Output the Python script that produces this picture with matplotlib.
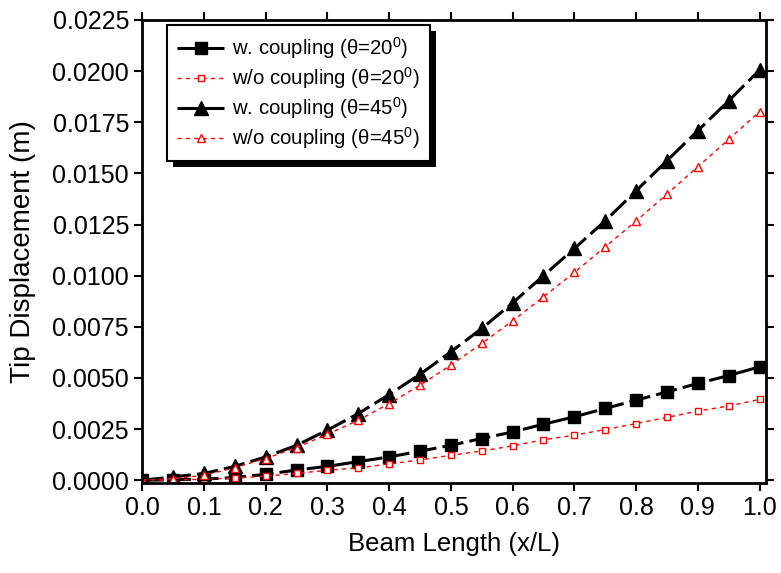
import matplotlib
matplotlib.use("Agg")
import matplotlib.pyplot as plt
from matplotlib.patches import Rectangle
import numpy as np

plt.rcParams['font.family'] = ['Liberation Sans', 'DejaVu Sans']
plt.rcParams['mathtext.fontset'] = 'custom'
plt.rcParams['mathtext.rm'] = 'Liberation Sans'
plt.rcParams['mathtext.it'] = 'Liberation Sans'

x = [0.0, 0.05, 0.10, 0.15, 0.20, 0.25, 0.30, 0.35, 0.40, 0.45, 0.50,
     0.55, 0.60, 0.65, 0.70, 0.75, 0.80, 0.85, 0.90, 0.95, 1.00]

# tip displacement (m)
w_20 = [0.0, 0.00002, 0.00006, 0.00013, 0.00029, 0.00050, 0.00068, 0.00091,
        0.00114, 0.00142, 0.00171, 0.00204, 0.00236, 0.00274, 0.00310,
        0.00351, 0.00391, 0.00432, 0.00473, 0.00512, 0.00554]
wo_20 = [0.0, 0.00001, 0.00005, 0.00011, 0.00020, 0.00033, 0.00049, 0.00060,
         0.00080, 0.00099, 0.00122, 0.00143, 0.00168, 0.00198, 0.00220,
         0.00248, 0.00277, 0.00307, 0.00338, 0.00363, 0.00395]
w_45 = [0.0, 0.00016, 0.00033, 0.00068, 0.00114, 0.00171, 0.00245, 0.00326,
        0.00419, 0.00518, 0.00628, 0.00742, 0.00867, 0.01000, 0.01133,
        0.01268, 0.01415, 0.01562, 0.01709, 0.01855, 0.02005]
wo_45 = [0.0, 0.00008, 0.00024, 0.00062, 0.00106, 0.00160, 0.00225, 0.00293,
         0.00375, 0.00465, 0.00563, 0.00669, 0.00779, 0.00897, 0.01016,
         0.01141, 0.01267, 0.01399, 0.01533, 0.01666, 0.01802]

labels = ["w. coupling (\u03b8=20$^0$)", "w/o coupling (\u03b8=20$^0$)",
          "w. coupling (\u03b8=45$^0$)", "w/o coupling (\u03b8=45$^0$)"]

fig = plt.figure(figsize=(7.81, 5.73), dpi=100)
ax = fig.add_axes([0.1822, 0.1576, 0.7986, 0.8075])

ax.plot(x, w_20, color='black', lw=2.2, dashes=(7, 2), marker='s', ms=8,
        mfc='black', mec='black', label=labels[0])
ax.plot(x, wo_20, color='red', lw=1.0, dashes=(3, 3), marker='s', ms=4.8,
        mfc='white', mec='red', mew=1.0, label=labels[1])
ax.plot(x, w_45, color='black', lw=2.2, dashes=(7, 2), marker='^', ms=10,
        mfc='black', mec='black', label=labels[2])
ax.plot(x, wo_45, color='red', lw=1.0, dashes=(3, 3), marker='^', ms=5.5,
        mfc='white', mec='red', mew=1.0, label=labels[3])

ax.set_xlim(0.0, 1.0105)
ax.set_ylim(-0.00012, 0.0225)
ax.set_xticks(np.arange(0, 1.01, 0.1))
ax.set_yticks(np.arange(0, 0.02251, 0.0025))
ax.xaxis.set_major_formatter(plt.FormatStrFormatter('%.1f'))
ax.yaxis.set_major_formatter(plt.FormatStrFormatter('%.4f'))
ax.tick_params(direction='out', length=6, width=1.5, labelsize=18,
               top=True, right=True)
for s in ax.spines.values():
    s.set_linewidth(2)

ax.set_xlabel("Beam Length (x/L)", fontsize=18.5, labelpad=9)
ax.set_ylabel("Tip Displacement (m)", fontsize=20, labelpad=12)

leg = ax.legend(loc='upper left', bbox_to_anchor=(0.0396, 0.989),
                borderaxespad=0, fontsize=14.7, handlelength=2.3,
                labelspacing=0.2, fancybox=False, framealpha=1,
                edgecolor='black', borderpad=0.5, handletextpad=0.4)
leg.get_frame().set_linewidth(1.5)
leg.set_zorder(5)

# solid drop shadow behind legend box
fig.canvas.draw()
bb = leg.get_window_extent()
shadow = Rectangle((bb.x0 + 6, bb.y0 - 6), bb.width, bb.height,
                   transform=None, facecolor='black', edgecolor='none',
                   zorder=4)
ax.add_artist(shadow)

fig.savefig("out.png", dpi=100)
